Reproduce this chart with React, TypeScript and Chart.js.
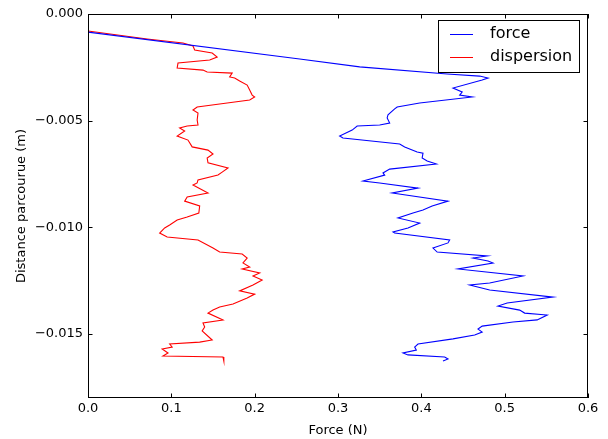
import React, { useEffect, useRef } from "react";
import { Chart, registerables } from "chart.js";

Chart.register(...registerables);

// force (N) and travelled distance (m) for the "force" series
const forceX = [
  0.000, 0.254, 0.326, 0.431, 0.470, 0.480, 0.473, 0.438, 0.449, 0.446,
  0.461, 0.398, 0.371, 0.368, 0.360, 0.359, 0.362, 0.350, 0.323, 0.317,
  0.302, 0.306, 0.374, 0.380, 0.395, 0.402, 0.401, 0.407, 0.418, 0.362,
  0.354, 0.356, 0.330, 0.350, 0.396, 0.365, 0.432, 0.413, 0.402, 0.390,
  0.372, 0.398, 0.384, 0.366, 0.368, 0.434, 0.432, 0.414, 0.419, 0.479,
  0.462, 0.480, 0.486, 0.444, 0.522, 0.482, 0.458, 0.482, 0.558, 0.503,
  0.492, 0.518, 0.524, 0.551, 0.539, 0.510, 0.473, 0.468, 0.473, 0.464,
  0.438, 0.396, 0.392, 0.394, 0.378, 0.384, 0.428, 0.432, 0.426,
];
const forceY = [
  -0.00085, -0.00211, -0.00248, -0.00281, -0.00291, -0.00300, -0.00309, -0.00347, -0.00366, -0.00380,
  -0.00389, -0.00417, -0.00436, -0.00445, -0.00473, -0.00487, -0.00511, -0.00520, -0.00525, -0.00544,
  -0.00572, -0.00581, -0.00609, -0.00623, -0.00647, -0.00652, -0.00675, -0.00689, -0.00703, -0.00727,
  -0.00745, -0.00755, -0.00783, -0.00792, -0.00816, -0.00839, -0.00877, -0.00900, -0.00919, -0.00933,
  -0.00956, -0.00980, -0.01003, -0.01022, -0.01027, -0.01059, -0.01073, -0.01097, -0.01116, -0.01134,
  -0.01144, -0.01158, -0.01167, -0.01195, -0.01228, -0.01261, -0.01270, -0.01294, -0.01327, -0.01355,
  -0.01369, -0.01388, -0.01402, -0.01411, -0.01434, -0.01444, -0.01463, -0.01477, -0.01491, -0.01505,
  -0.01523, -0.01547, -0.01561, -0.01575, -0.01589, -0.01598, -0.01608, -0.01617, -0.01627,
];

// "dispersion" series
const dispX = [
  0.000, 0.071, 0.114, 0.126, 0.128, 0.149, 0.155, 0.146, 0.108, 0.107,
  0.138, 0.143, 0.173, 0.170, 0.176, 0.182, 0.191, 0.194, 0.197, 0.200,
  0.194, 0.167, 0.131, 0.126, 0.132, 0.131, 0.132, 0.119, 0.110, 0.116,
  0.107, 0.120, 0.125, 0.144, 0.150, 0.143, 0.144, 0.168, 0.161, 0.156,
  0.132, 0.131, 0.126, 0.144, 0.119, 0.116, 0.134, 0.133, 0.119, 0.107,
  0.098, 0.092, 0.086, 0.095, 0.132, 0.150, 0.158, 0.185, 0.191, 0.186,
  0.194, 0.185, 0.206, 0.198, 0.209, 0.198, 0.182, 0.200, 0.191, 0.174,
  0.158, 0.150, 0.144, 0.162, 0.138, 0.140, 0.137, 0.149, 0.134, 0.098,
  0.101, 0.089, 0.096, 0.090, 0.162, 0.163,
];
const dispY = [
  -0.00080, -0.00117, -0.00136, -0.00150, -0.00169, -0.00183, -0.00202, -0.00216, -0.00230, -0.00253,
  -0.00263, -0.00272, -0.00277, -0.00295, -0.00300, -0.00314, -0.00333, -0.00356, -0.00380, -0.00389,
  -0.00403, -0.00417, -0.00436, -0.00450, -0.00464, -0.00497, -0.00520, -0.00525, -0.00534, -0.00548,
  -0.00572, -0.00591, -0.00623, -0.00638, -0.00656, -0.00675, -0.00698, -0.00722, -0.00741, -0.00755,
  -0.00778, -0.00792, -0.00802, -0.00839, -0.00858, -0.00877, -0.00900, -0.00933, -0.00952, -0.00966,
  -0.00989, -0.01003, -0.01027, -0.01045, -0.01059, -0.01097, -0.01116, -0.01125, -0.01144, -0.01167,
  -0.01186, -0.01195, -0.01214, -0.01228, -0.01247, -0.01270, -0.01298, -0.01313, -0.01331, -0.01359,
  -0.01373, -0.01388, -0.01402, -0.01434, -0.01448, -0.01467, -0.01486, -0.01528, -0.01538, -0.01547,
  -0.01561, -0.01570, -0.01589, -0.01603, -0.01608, -0.01627,
];

const seriesLabels = ["force", "dispersion"];
const seriesColors = ["#0000ff", "#ff0000"];
const xTicks = [0, 0.1, 0.2, 0.3, 0.4, 0.5, 0.6];
const yTicks = [0, -0.005, -0.01, -0.015];
const xRange = [0, 0.6];
const yRange = [-0.018, 0];
const xTitle = "Force (N)";
const yTitle = "Distance parcourue (m)";

const FONT = "'DejaVu Sans', sans-serif";

const framePlugin = {
  id: "mplFrame",
  afterDatasetsDraw(chart: any) {
    const { ctx, chartArea, scales } = chart;
    const { left, right, top, bottom } = chartArea;
    ctx.save();
    ctx.strokeStyle = "#000";
    ctx.lineWidth = 1;
    const tl = 4.5;
    ctx.beginPath();
    xTicks.forEach((v) => {
      const px = Math.round(scales.x.getPixelForValue(v)) + 0.5;
      ctx.moveTo(px, bottom);
      ctx.lineTo(px, bottom - tl);
      ctx.moveTo(px, top);
      ctx.lineTo(px, top + tl);
    });
    yTicks.forEach((v) => {
      const py = Math.round(scales.y.getPixelForValue(v)) + 0.5;
      ctx.moveTo(left, py);
      ctx.lineTo(left + tl, py);
      ctx.moveTo(right, py);
      ctx.lineTo(right - tl, py);
    });
    ctx.stroke();
    ctx.strokeRect(left + 0.5, top + 0.5, right - left - 1, bottom - top - 1);

    // legend box (upper right, matplotlib style)
    const bw = 141;
    const bh = 52;
    const bx = right - 9 - bw;
    const by = top + 6;
    ctx.fillStyle = "#fff";
    ctx.fillRect(bx, by, bw, bh);
    ctx.strokeRect(bx + 0.5, by + 0.5, bw, bh);
    ctx.font = `16px ${FONT}`;
    ctx.textBaseline = "middle";
    ctx.textAlign = "left";
    chart.data.datasets.forEach((ds: any, i: number) => {
      const ly = by + 14 + i * 23;
      ctx.strokeStyle = ds.borderColor;
      ctx.lineWidth = 1;
      ctx.beginPath();
      ctx.moveTo(bx + 12, Math.round(ly) + 0.5);
      ctx.lineTo(bx + 35, Math.round(ly) + 0.5);
      ctx.stroke();
      ctx.fillStyle = "#000";
      ctx.fillText(ds.label, bx + 52, ly);
    });
    ctx.restore();
  },
};

export default function App() {
  const ref = useRef<HTMLCanvasElement | null>(null);

  useEffect(() => {
    document.body.style.margin = "0";
    const canvas = ref.current!;
    const fmtY = (v: number) =>
      v === 0 ? "0.000" : (v < 0 ? "\u2212" : "") + Math.abs(v).toFixed(3);
    const chart = new Chart(canvas, {
      type: "scatter",
      data: {
        datasets: [
          {
            label: seriesLabels[0],
            data: forceX.map((x, i) => ({ x, y: forceY[i] })),
            borderColor: seriesColors[0],
            backgroundColor: seriesColors[0],
            showLine: true,
            borderWidth: 1.1,
            pointRadius: 0,
            tension: 0,
          },
          {
            label: seriesLabels[1],
            data: dispX.map((x, i) => ({ x, y: dispY[i] })),
            borderColor: seriesColors[1],
            backgroundColor: seriesColors[1],
            showLine: true,
            borderWidth: 1.1,
            pointRadius: 0,
            tension: 0,
          },
        ],
      },
      options: {
        responsive: false,
        animation: false,
        layout: { padding: { top: 14, right: 20, left: 0, bottom: 0 } },
        plugins: {
          legend: { display: false },
          tooltip: { enabled: false },
        },
        scales: {
          x: {
            type: "linear",
            min: xRange[0],
            max: xRange[1],
            afterBuildTicks: (s: any) => {
              s.ticks = xTicks.map((value) => ({ value }));
            },
            afterFit: (s: any) => {
              s.height = 41;
            },
            grid: { display: false, drawTicks: false },
            border: { display: false },
            ticks: {
              color: "#000",
              padding: 3,
              maxRotation: 0,
              autoSkip: false,
              font: { family: FONT, size: 13 },
              callback: (v: any) => Number(v).toFixed(1),
            },
            title: {
              display: true,
              text: xTitle,
              color: "#000",
              font: { family: FONT, size: 13 },
              padding: { top: 0, bottom: 1 },
            },
          },
          y: {
            type: "linear",
            min: yRange[0],
            max: yRange[1],
            afterBuildTicks: (s: any) => {
              s.ticks = yTicks.map((value) => ({ value }));
            },
            afterFit: (s: any) => {
              s.width = 88;
            },
            grid: { display: false, drawTicks: false },
            border: { display: false },
            ticks: {
              color: "#000",
              padding: 5,
              autoSkip: false,
              font: { family: FONT, size: 13 },
              callback: (v: any) => fmtY(Number(v)),
            },
            title: {
              display: true,
              text: yTitle,
              color: "#000",
              font: { family: FONT, size: 13 },
              padding: { top: 14, bottom: 0 },
            },
          },
        },
      },
      plugins: [framePlugin],
    } as any);
    return () => chart.destroy();
  }, []);

  return (
    <div style={{ width: 608, height: 439, background: "#fff" }}>
      <canvas ref={ref} width={608} height={439} style={{ display: "block" }} />
    </div>
  );
}
